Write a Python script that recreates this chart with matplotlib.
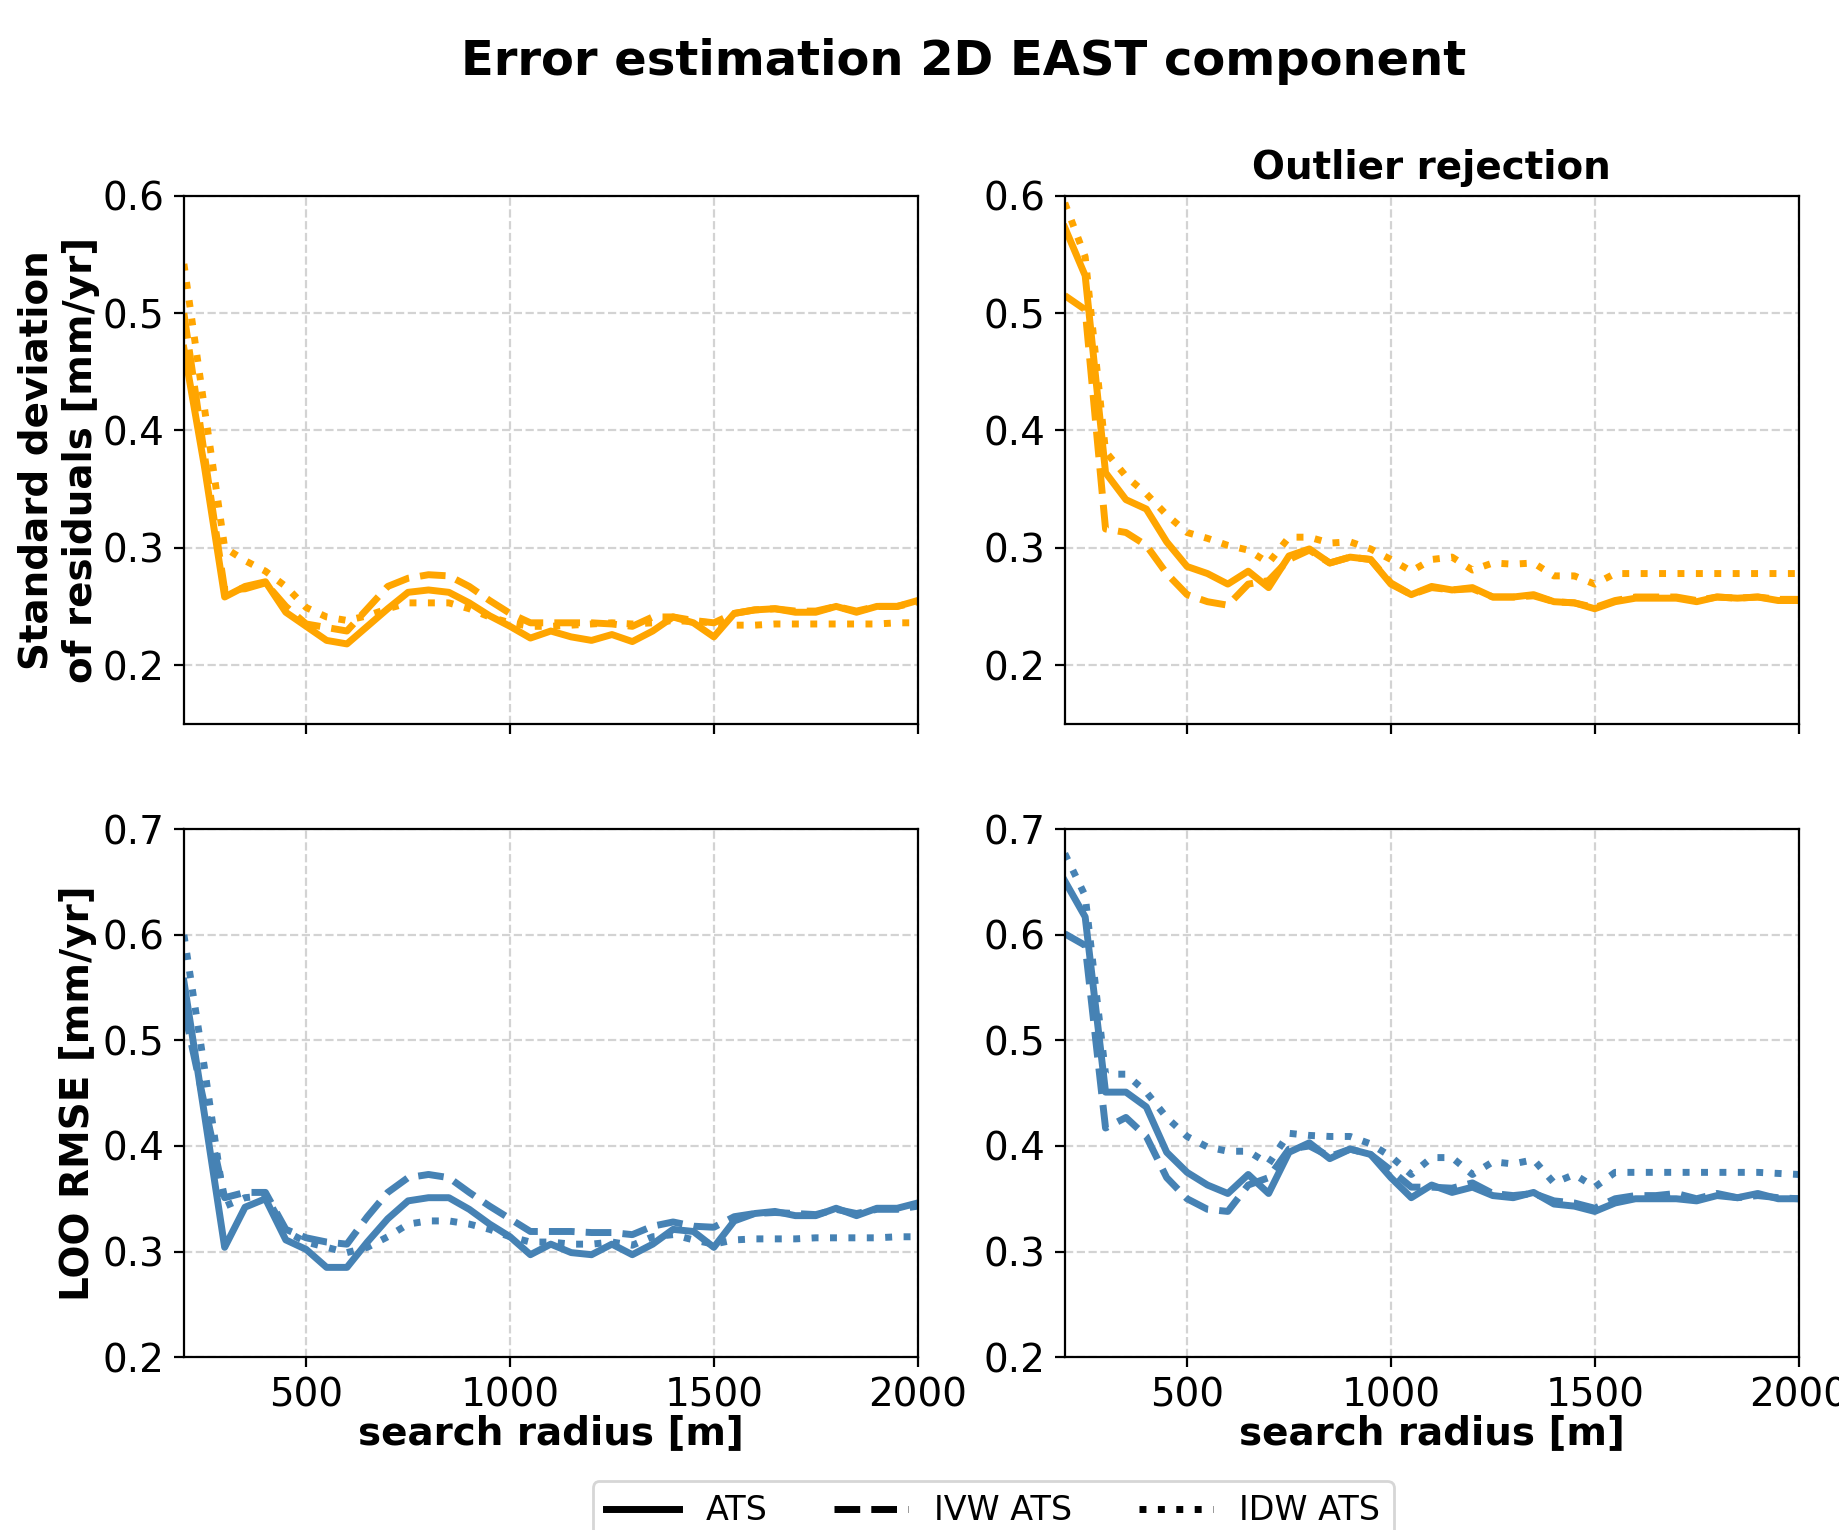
import matplotlib.pyplot as plt
from matplotlib.lines import Line2D

# search radius [m]
radius = list(range(200, 2001, 50))

# --- standard deviation of residuals, no outlier rejection
std_ats = [0.47, 0.37, 0.258, 0.267, 0.271, 0.245, 0.233, 0.221, 0.218, 0.233,
           0.248, 0.262, 0.264, 0.262, 0.253, 0.242, 0.233, 0.223, 0.229, 0.224,
           0.221, 0.226, 0.220, 0.229, 0.241, 0.236, 0.224, 0.244, 0.247, 0.248,
           0.245, 0.245, 0.250, 0.245, 0.250, 0.250, 0.255]
std_ivw = [0.50, 0.38, 0.264, 0.265, 0.270, 0.250, 0.235, 0.232, 0.229, 0.248,
           0.267, 0.274, 0.277, 0.276, 0.267, 0.255, 0.244, 0.236, 0.236, 0.236,
           0.236, 0.235, 0.233, 0.241, 0.241, 0.238, 0.236, 0.244, 0.247, 0.248,
           0.246, 0.246, 0.250, 0.246, 0.250, 0.250, 0.254]
std_idw = [0.542, 0.42, 0.300, 0.289, 0.280, 0.267, 0.249, 0.241, 0.238, 0.242,
           0.248, 0.253, 0.253, 0.253, 0.248, 0.241, 0.236, 0.233, 0.233, 0.234,
           0.235, 0.236, 0.235, 0.236, 0.238, 0.237, 0.236, 0.234, 0.234, 0.235,
           0.235, 0.235, 0.235, 0.235, 0.235, 0.236, 0.236]

# --- standard deviation of residuals, outlier rejection
std_ats_or = [0.573, 0.532, 0.364, 0.341, 0.333, 0.305, 0.284, 0.278, 0.269, 0.280,
              0.266, 0.293, 0.299, 0.287, 0.292, 0.290, 0.269, 0.260, 0.267, 0.264,
              0.266, 0.258, 0.258, 0.260, 0.254, 0.253, 0.248, 0.254, 0.257, 0.257,
              0.257, 0.254, 0.258, 0.257, 0.258, 0.255, 0.255]
std_ivw_or = [0.515, 0.503, 0.316, 0.313, 0.302, 0.278, 0.260, 0.254, 0.251, 0.269,
              0.272, 0.290, 0.298, 0.287, 0.292, 0.290, 0.270, 0.260, 0.266, 0.264,
              0.265, 0.258, 0.258, 0.259, 0.254, 0.253, 0.249, 0.255, 0.258, 0.258,
              0.258, 0.255, 0.258, 0.257, 0.258, 0.256, 0.256]
std_idw_or = [0.594, 0.548, 0.382, 0.361, 0.346, 0.328, 0.313, 0.308, 0.302, 0.298,
              0.287, 0.309, 0.309, 0.304, 0.305, 0.299, 0.290, 0.280, 0.290, 0.292,
              0.281, 0.287, 0.286, 0.287, 0.276, 0.276, 0.269, 0.278, 0.278, 0.278,
              0.278, 0.278, 0.278, 0.278, 0.278, 0.278, 0.278]

# --- LOO RMSE, no outlier rejection
rmse_ats = [0.556, 0.431, 0.304, 0.342, 0.350, 0.311, 0.302, 0.285, 0.285, 0.309,
            0.331, 0.348, 0.351, 0.351, 0.340, 0.326, 0.314, 0.297, 0.307, 0.299,
            0.297, 0.307, 0.297, 0.307, 0.321, 0.319, 0.304, 0.329, 0.336, 0.338,
            0.334, 0.334, 0.341, 0.334, 0.341, 0.341, 0.346]
rmse_ivw = [0.53, 0.44, 0.351, 0.356, 0.356, 0.321, 0.313, 0.309, 0.307, 0.333,
            0.356, 0.370, 0.373, 0.370, 0.356, 0.343, 0.331, 0.319, 0.319, 0.319,
            0.318, 0.318, 0.316, 0.324, 0.328, 0.324, 0.323, 0.333, 0.336, 0.337,
            0.336, 0.335, 0.340, 0.336, 0.340, 0.340, 0.343]
rmse_idw = [0.600, 0.475, 0.343, 0.351, 0.353, 0.319, 0.309, 0.304, 0.299, 0.304,
            0.314, 0.326, 0.329, 0.329, 0.326, 0.321, 0.314, 0.309, 0.309, 0.307,
            0.307, 0.309, 0.306, 0.314, 0.316, 0.311, 0.307, 0.311, 0.312, 0.312,
            0.312, 0.313, 0.313, 0.313, 0.313, 0.314, 0.314]

# --- LOO RMSE, outlier rejection
rmse_ats_or = [0.651, 0.617, 0.451, 0.451, 0.437, 0.394, 0.375, 0.363, 0.355, 0.373,
               0.355, 0.394, 0.403, 0.388, 0.397, 0.392, 0.370, 0.351, 0.363, 0.356,
               0.361, 0.353, 0.351, 0.356, 0.345, 0.343, 0.338, 0.346, 0.350, 0.350,
               0.350, 0.348, 0.353, 0.351, 0.355, 0.350, 0.350]
rmse_ivw_or = [0.601, 0.590, 0.417, 0.427, 0.409, 0.370, 0.350, 0.340, 0.338, 0.363,
               0.370, 0.397, 0.400, 0.390, 0.397, 0.392, 0.377, 0.361, 0.361, 0.360,
               0.365, 0.355, 0.353, 0.355, 0.348, 0.346, 0.341, 0.350, 0.353, 0.353,
               0.355, 0.350, 0.355, 0.351, 0.353, 0.351, 0.350]
rmse_idw_or = [0.677, 0.637, 0.468, 0.468, 0.451, 0.427, 0.409, 0.399, 0.395, 0.395,
               0.383, 0.412, 0.410, 0.409, 0.409, 0.402, 0.390, 0.373, 0.389, 0.389,
               0.373, 0.385, 0.383, 0.387, 0.365, 0.373, 0.361, 0.375, 0.375, 0.375,
               0.375, 0.375, 0.375, 0.375, 0.375, 0.374, 0.373]

methods = ['ATS', 'IVW ATS', 'IDW ATS']
styles = ['-', '--', ':']

plt.rcParams['font.size'] = 14

fig = plt.figure(figsize=(9.195, 7.65), dpi=200)
ax_tl = fig.add_axes([0.100, 0.527, 0.399, 0.345])
ax_tr = fig.add_axes([0.579, 0.527, 0.399, 0.345])
ax_bl = fig.add_axes([0.100, 0.113, 0.399, 0.345])
ax_br = fig.add_axes([0.579, 0.113, 0.399, 0.345])

panels = [
    (ax_tl, [std_ats, std_ivw, std_idw], 'orange'),
    (ax_tr, [std_ats_or, std_ivw_or, std_idw_or], 'orange'),
    (ax_bl, [rmse_ats, rmse_ivw, rmse_idw], 'steelblue'),
    (ax_br, [rmse_ats_or, rmse_ivw_or, rmse_idw_or], 'steelblue'),
]
for ax, series, col in panels:
    for vals, ls in zip(series, styles):
        ax.plot(radius, vals, color=col, linestyle=ls, linewidth=2.5)
    ax.set_xlim(200, 2000)
    ax.set_xticks([500, 1000, 1500, 2000])
    ax.grid(True, linestyle='--', color='lightgray', linewidth=0.8)

for ax in (ax_tl, ax_tr):
    ax.set_ylim(0.15, 0.6)
    ax.set_yticks([0.2, 0.3, 0.4, 0.5, 0.6])
    ax.tick_params(labelbottom=False)
for ax in (ax_bl, ax_br):
    ax.set_ylim(0.2, 0.7)
    ax.set_yticks([0.2, 0.3, 0.4, 0.5, 0.6, 0.7])
    ax.set_xlabel('search radius [m]', fontweight='bold', labelpad=0)

ax_tl.set_ylabel('Standard deviation\nof residuals [mm/yr]', fontweight='bold', labelpad=1)
ax_bl.set_ylabel('LOO RMSE [mm/yr]', fontweight='bold', labelpad=2)
ax_tr.set_title('Outlier rejection', fontweight='bold', fontsize=14)

fig.suptitle('Error estimation 2D EAST component', fontweight='bold', fontsize=17.3,
             x=0.524, y=0.975)

handles = [Line2D([0], [0], color='black', linestyle=ls, linewidth=2.5) for ls in styles]
fig.legend(handles, methods, loc='upper center', ncol=3, bbox_to_anchor=(0.54, 0.043),
           frameon=True, fontsize=12, handlelength=2.2, columnspacing=2.0)

fig.savefig('out.png', dpi=200)
